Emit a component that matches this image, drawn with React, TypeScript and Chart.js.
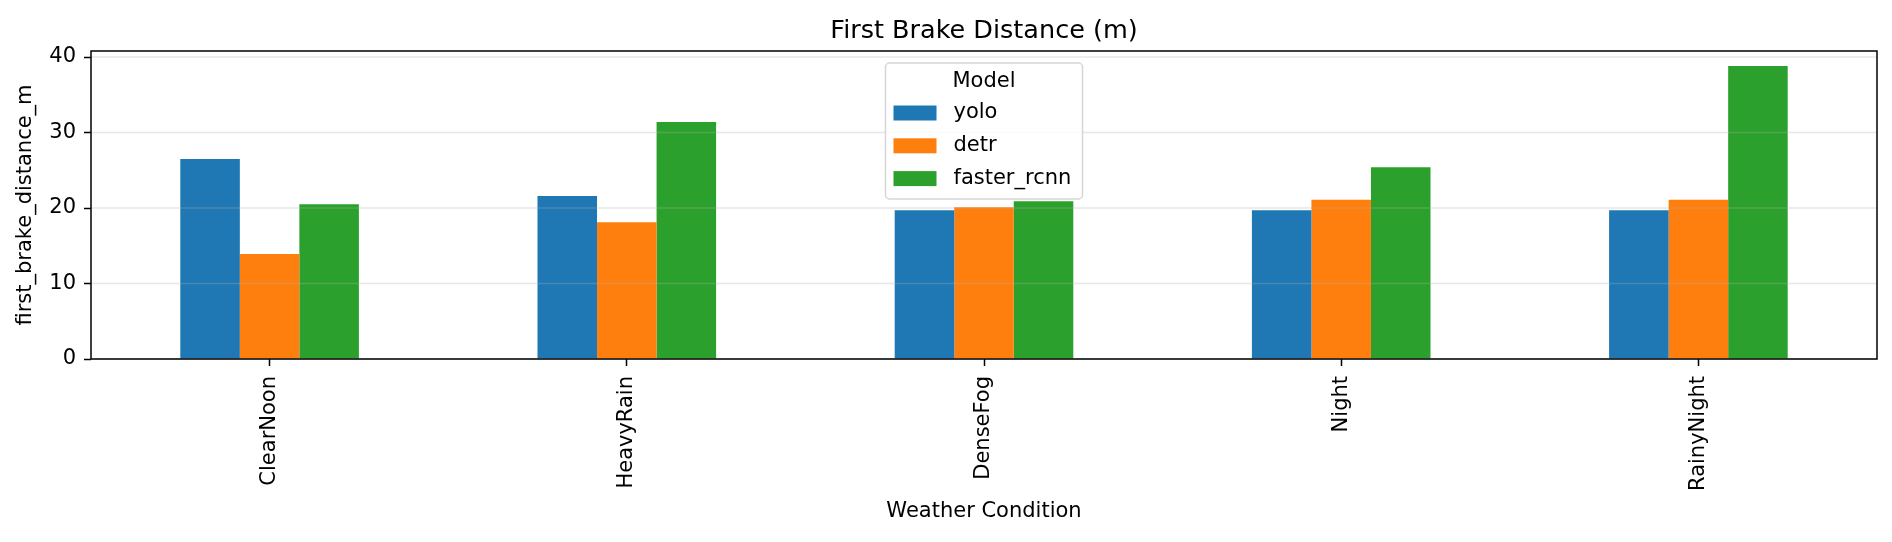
import React, { useEffect, useRef } from 'react';
import Chart from 'chart.js/auto';

const categories = ['ClearNoon', 'HeavyRain', 'DenseFog', 'Night', 'RainyNight'];
const modelNames = ['yolo', 'detr', 'faster_rcnn'];
const yoloValues = [26.5, 21.6, 19.7, 19.7, 19.7];
const detrValues = [13.9, 18.1, 20.1, 21.1, 21.1];
const fasterRcnnValues = [20.5, 31.4, 20.9, 25.4, 38.8];
const modelColors = ['#1f77b4', '#ff7f0e', '#2ca02c'];
const yTicks = [0, 10, 20, 30, 40];
const yMax = 40.8;

const FONT = 'DejaVu Sans';

// matplotlib-ish extras: grid over bars, four spines, legend inside the axes
const axesExtras = {
  id: 'axesExtras',
  afterDatasetsDraw(chart: any) {
    const { ctx, chartArea, scales } = chart;
    const y = scales.y;
    ctx.save();

    ctx.strokeStyle = 'rgba(176,176,176,0.3)';
    ctx.lineWidth = 1.5;
    y.ticks.forEach((t: any) => {
      const py = y.getPixelForValue(t.value);
      ctx.beginPath();
      ctx.moveTo(chartArea.left, py);
      ctx.lineTo(chartArea.right, py);
      ctx.stroke();
    });

    ctx.strokeStyle = '#000';
    ctx.lineWidth = 1.5;
    ctx.strokeRect(chartArea.left, chartArea.top, chartArea.right - chartArea.left, chartArea.bottom - chartArea.top);

    const boxW = 197;
    const boxH = 136;
    const bx = (chartArea.left + chartArea.right) / 2 - boxW / 2;
    const by = chartArea.top + 12;
    ctx.fillStyle = 'rgba(255,255,255,0.8)';
    ctx.strokeStyle = 'rgba(204,204,204,0.8)';
    ctx.lineWidth = 1.5;
    ctx.beginPath();
    ctx.roundRect(bx, by, boxW, boxH, 4);
    ctx.fill();
    ctx.stroke();

    ctx.font = `21px "${FONT}"`;
    ctx.textBaseline = 'middle';
    ctx.textAlign = 'center';
    ctx.fillStyle = '#000';
    ctx.fillText('Model', bx + boxW / 2, by + 19);
    ctx.textAlign = 'left';
    chart.data.datasets.forEach((ds: any, i: number) => {
      const cy = by + 50 + i * 32.8;
      ctx.fillStyle = ds.backgroundColor;
      ctx.fillRect(bx + 8, cy - 7.5, 43, 15);
      ctx.fillStyle = '#000';
      ctx.fillText(ds.label, bx + 68, cy);
    });
    ctx.restore();
  },
};

const BrakeChart: React.FC = () => {
  const chartRef = useRef<HTMLCanvasElement | null>(null);
  const chartInstance = useRef<Chart | null>(null);

  useEffect(() => {
    if (!chartRef.current) return;
    if (chartInstance.current) {
      chartInstance.current.destroy();
    }
    const seriesValues = [yoloValues, detrValues, fasterRcnnValues];
    const tickFont = { family: FONT, size: 21 };

    chartInstance.current = new Chart(chartRef.current, {
      type: 'bar',
      data: {
        labels: categories,
        datasets: modelNames.map((name, i) => ({
          label: name,
          data: seriesValues[i],
          backgroundColor: modelColors[i],
          borderWidth: 0,
          barPercentage: 1,
          categoryPercentage: 0.5,
        })),
      },
      options: {
        animation: false,
        responsive: false,
        layout: { padding: { left: 0, right: 15, top: 0, bottom: 0 } },
        plugins: {
          legend: { display: false },
          tooltip: { enabled: false },
          title: {
            display: true,
            text: 'First Brake Distance (m)',
            fullSize: false,
            color: '#000',
            font: { family: FONT, size: 25.5, weight: 'normal' },
            padding: { top: 16, bottom: 4.4 },
          },
        },
        scales: {
          x: {
            offset: true,
            grid: {
              display: true,
              offset: false,
              drawOnChartArea: false,
              drawTicks: true,
              tickLength: 7,
              tickColor: '#000',
              tickWidth: 1.5,
            },
            border: { display: false },
            ticks: {
              minRotation: 90,
              maxRotation: 90,
              autoSkip: false,
              padding: 10,
              color: '#000',
              font: tickFont,
            },
            title: {
              display: true,
              text: 'Weather Condition',
              color: '#000',
              font: tickFont,
              padding: { top: 0, bottom: 18 },
            },
            afterFit: (scale: any) => {
              scale.height = 183;
            },
          },
          y: {
            min: 0,
            max: yMax,
            afterBuildTicks: (scale: any) => {
              scale.ticks = yTicks.map((value) => ({ value }));
            },
            grid: {
              display: true,
              drawOnChartArea: false,
              drawTicks: true,
              tickLength: 7,
              tickColor: '#000',
              tickWidth: 1.5,
            },
            border: { display: false },
            ticks: {
              padding: 8,
              color: '#000',
              font: tickFont,
            },
            title: {
              display: true,
              text: 'first_brake_distance_m',
              color: '#000',
              font: tickFont,
              padding: { top: 13, bottom: 0 },
            },
            afterFit: (scale: any) => {
              scale.width = 91;
            },
          },
        },
      },
      plugins: [axesExtras],
    });

    return () => {
      if (chartInstance.current) {
        chartInstance.current.destroy(); // Cleanup on unmount
        chartInstance.current = null;
      }
    };
  }, []);

  return (
    <div style={{ position: 'absolute', left: 0, top: 0, width: 1892, height: 542, background: '#fff' }}>
      <canvas ref={chartRef} width={1892} height={542} />
    </div>
  );
};

export default function App() {
  return <BrakeChart />;
}
